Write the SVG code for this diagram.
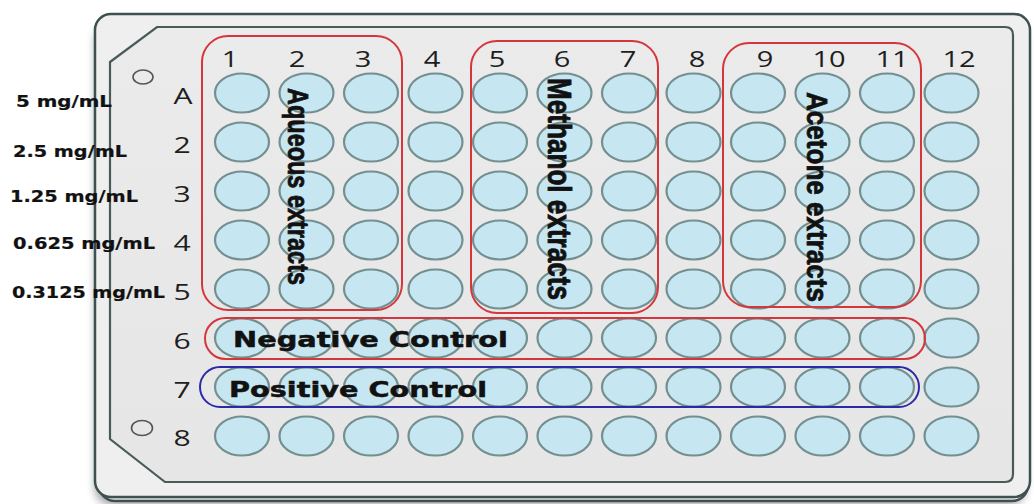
<svg xmlns="http://www.w3.org/2000/svg" width="1034" height="504" viewBox="0 0 1034 504">
  <defs>
    <filter id="shadow" x="-5%" y="-5%" width="110%" height="115%">
      <feGaussianBlur in="SourceAlpha" stdDeviation="4"/>
      <feOffset dx="-3" dy="3" result="b"/>
      <feComponentTransfer><feFuncA type="linear" slope="0.35"/></feComponentTransfer>
      <feMerge><feMergeNode/><feMergeNode in="SourceGraphic"/></feMerge>
    </filter>
    <linearGradient id="innerFill" x1="0" y1="0" x2="0" y2="1">
      <stop offset="0" stop-color="#ebebeb"/>
      <stop offset="1" stop-color="#e6e6e6"/>
    </linearGradient>
  </defs>
  <style>
    .well { fill: #c6e6f2; stroke: #748f90; stroke-width: 2.2; }
    .num { font-family: "Open Sans", "Liberation Sans", sans-serif; font-size: 21.5px; fill: #1e1e1e; text-anchor: middle; }
    .conc { font-family: "DejaVu Sans", sans-serif; font-weight: bold; font-size: 15px; fill: #111; stroke: #111; stroke-width: 0.2; }
    .ctrl { font-family: "DejaVu Sans", sans-serif; font-weight: bold; font-size: 22px; fill: #111; stroke: #111; stroke-width: 0.5; }
    .vert { font-family: "Liberation Sans", Arial, sans-serif; font-weight: bold; font-size: 26px; fill: #111; stroke: #111; stroke-width: 0.7; }
    .grpRed { fill: none; stroke: #d4363b; stroke-width: 2; }
    .grpBlue { fill: none; stroke: #2a2aa8; stroke-width: 2; }
    .hole { fill: none; stroke: #555; stroke-width: 1.6; }
  </style>

  <rect width="1034" height="504" fill="#ffffff"/>

  <!-- plate -->
  <g id="plate">
    <rect x="99" y="22" width="929" height="479" rx="16" fill="#e2e2e2" stroke="#3f5050" stroke-width="2.5" filter="url(#shadow)"/>
    <rect x="95" y="14" width="935" height="483" rx="16" fill="#efefef" stroke="#3f5050" stroke-width="2.5"/>
    <path d="M110,62 L157,27 L1005,27 Q1013,27 1013,35 L1013,474 Q1013,482 1005,482 L165,482 L110,439 Z" fill="url(#innerFill)" stroke="#4a5a5a" stroke-width="2.2"/>
    <ellipse class="hole" cx="143" cy="77" rx="10" ry="7"/>
    <ellipse class="hole" cx="142" cy="428" rx="10.5" ry="7.5"/>
  </g>

  <!-- column labels -->
  <g id="column-labels">
    <text class="num" transform="translate(230,67) scale(1.35,1)">1</text>
    <text class="num" transform="translate(297,67) scale(1.35,1)">2</text>
    <text class="num" transform="translate(363,67) scale(1.35,1)">3</text>
    <text class="num" transform="translate(432,67) scale(1.35,1)">4</text>
    <text class="num" transform="translate(497,67) scale(1.35,1)">5</text>
    <text class="num" transform="translate(562,67) scale(1.35,1)">6</text>
    <text class="num" transform="translate(628,67) scale(1.35,1)">7</text>
    <text class="num" transform="translate(697,67) scale(1.35,1)">8</text>
    <text class="num" transform="translate(765,67) scale(1.35,1)">9</text>
    <text class="num" transform="translate(829,67) scale(1.35,1)">10</text>
    <text class="num" transform="translate(892,67) scale(1.35,1)">11</text>
    <text class="num" transform="translate(959,67) scale(1.35,1)">12</text>
  </g>

  <!-- row labels -->
  <g id="row-labels">
    <text class="num" transform="translate(183,104) scale(1.4,1)">A</text>
    <text class="num" transform="translate(182,153) scale(1.4,1)">2</text>
    <text class="num" transform="translate(182,202) scale(1.4,1)">3</text>
    <text class="num" transform="translate(182,251) scale(1.4,1)">4</text>
    <text class="num" transform="translate(182,300) scale(1.4,1)">5</text>
    <text class="num" transform="translate(182,349) scale(1.4,1)">6</text>
    <text class="num" transform="translate(182,398) scale(1.4,1)">7</text>
    <text class="num" transform="translate(182,446) scale(1.4,1)">8</text>
  </g>

  <!-- wells -->
  <g id="wells">
    <g id="row-A">
      <ellipse class="well" cx="242" cy="93" rx="27" ry="19.5"/><ellipse class="well" cx="306.5" cy="93" rx="27" ry="19.5"/><ellipse class="well" cx="371" cy="93" rx="27" ry="19.5"/><ellipse class="well" cx="435.5" cy="93" rx="27" ry="19.5"/><ellipse class="well" cx="500" cy="93" rx="27" ry="19.5"/><ellipse class="well" cx="564.5" cy="93" rx="27" ry="19.5"/><ellipse class="well" cx="629" cy="93" rx="27" ry="19.5"/><ellipse class="well" cx="693.5" cy="93" rx="27" ry="19.5"/><ellipse class="well" cx="758" cy="93" rx="27" ry="19.5"/><ellipse class="well" cx="822.5" cy="93" rx="27" ry="19.5"/><ellipse class="well" cx="887" cy="93" rx="27" ry="19.5"/><ellipse class="well" cx="951.5" cy="93" rx="27" ry="19.5"/>
    </g>
    <g id="row-2">
      <ellipse class="well" cx="242" cy="142" rx="27" ry="19.5"/><ellipse class="well" cx="306.5" cy="142" rx="27" ry="19.5"/><ellipse class="well" cx="371" cy="142" rx="27" ry="19.5"/><ellipse class="well" cx="435.5" cy="142" rx="27" ry="19.5"/><ellipse class="well" cx="500" cy="142" rx="27" ry="19.5"/><ellipse class="well" cx="564.5" cy="142" rx="27" ry="19.5"/><ellipse class="well" cx="629" cy="142" rx="27" ry="19.5"/><ellipse class="well" cx="693.5" cy="142" rx="27" ry="19.5"/><ellipse class="well" cx="758" cy="142" rx="27" ry="19.5"/><ellipse class="well" cx="822.5" cy="142" rx="27" ry="19.5"/><ellipse class="well" cx="887" cy="142" rx="27" ry="19.5"/><ellipse class="well" cx="951.5" cy="142" rx="27" ry="19.5"/>
    </g>
    <g id="row-3">
      <ellipse class="well" cx="242" cy="191" rx="27" ry="19.5"/><ellipse class="well" cx="306.5" cy="191" rx="27" ry="19.5"/><ellipse class="well" cx="371" cy="191" rx="27" ry="19.5"/><ellipse class="well" cx="435.5" cy="191" rx="27" ry="19.5"/><ellipse class="well" cx="500" cy="191" rx="27" ry="19.5"/><ellipse class="well" cx="564.5" cy="191" rx="27" ry="19.5"/><ellipse class="well" cx="629" cy="191" rx="27" ry="19.5"/><ellipse class="well" cx="693.5" cy="191" rx="27" ry="19.5"/><ellipse class="well" cx="758" cy="191" rx="27" ry="19.5"/><ellipse class="well" cx="822.5" cy="191" rx="27" ry="19.5"/><ellipse class="well" cx="887" cy="191" rx="27" ry="19.5"/><ellipse class="well" cx="951.5" cy="191" rx="27" ry="19.5"/>
    </g>
    <g id="row-4">
      <ellipse class="well" cx="242" cy="240" rx="27" ry="19.5"/><ellipse class="well" cx="306.5" cy="240" rx="27" ry="19.5"/><ellipse class="well" cx="371" cy="240" rx="27" ry="19.5"/><ellipse class="well" cx="435.5" cy="240" rx="27" ry="19.5"/><ellipse class="well" cx="500" cy="240" rx="27" ry="19.5"/><ellipse class="well" cx="564.5" cy="240" rx="27" ry="19.5"/><ellipse class="well" cx="629" cy="240" rx="27" ry="19.5"/><ellipse class="well" cx="693.5" cy="240" rx="27" ry="19.5"/><ellipse class="well" cx="758" cy="240" rx="27" ry="19.5"/><ellipse class="well" cx="822.5" cy="240" rx="27" ry="19.5"/><ellipse class="well" cx="887" cy="240" rx="27" ry="19.5"/><ellipse class="well" cx="951.5" cy="240" rx="27" ry="19.5"/>
    </g>
    <g id="row-5">
      <ellipse class="well" cx="242" cy="289" rx="27" ry="19.5"/><ellipse class="well" cx="306.5" cy="289" rx="27" ry="19.5"/><ellipse class="well" cx="371" cy="289" rx="27" ry="19.5"/><ellipse class="well" cx="435.5" cy="289" rx="27" ry="19.5"/><ellipse class="well" cx="500" cy="289" rx="27" ry="19.5"/><ellipse class="well" cx="564.5" cy="289" rx="27" ry="19.5"/><ellipse class="well" cx="629" cy="289" rx="27" ry="19.5"/><ellipse class="well" cx="693.5" cy="289" rx="27" ry="19.5"/><ellipse class="well" cx="758" cy="289" rx="27" ry="19.5"/><ellipse class="well" cx="822.5" cy="289" rx="27" ry="19.5"/><ellipse class="well" cx="887" cy="289" rx="27" ry="19.5"/><ellipse class="well" cx="951.5" cy="289" rx="27" ry="19.5"/>
    </g>
    <g id="row-6">
      <ellipse class="well" cx="242" cy="338" rx="27" ry="19.5"/><ellipse class="well" cx="306.5" cy="338" rx="27" ry="19.5"/><ellipse class="well" cx="371" cy="338" rx="27" ry="19.5"/><ellipse class="well" cx="435.5" cy="338" rx="27" ry="19.5"/><ellipse class="well" cx="500" cy="338" rx="27" ry="19.5"/><ellipse class="well" cx="564.5" cy="338" rx="27" ry="19.5"/><ellipse class="well" cx="629" cy="338" rx="27" ry="19.5"/><ellipse class="well" cx="693.5" cy="338" rx="27" ry="19.5"/><ellipse class="well" cx="758" cy="338" rx="27" ry="19.5"/><ellipse class="well" cx="822.5" cy="338" rx="27" ry="19.5"/><ellipse class="well" cx="887" cy="338" rx="27" ry="19.5"/><ellipse class="well" cx="951.5" cy="338" rx="27" ry="19.5"/>
    </g>
    <g id="row-7">
      <ellipse class="well" cx="242" cy="387" rx="27" ry="19.5"/><ellipse class="well" cx="306.5" cy="387" rx="27" ry="19.5"/><ellipse class="well" cx="371" cy="387" rx="27" ry="19.5"/><ellipse class="well" cx="435.5" cy="387" rx="27" ry="19.5"/><ellipse class="well" cx="500" cy="387" rx="27" ry="19.5"/><ellipse class="well" cx="564.5" cy="387" rx="27" ry="19.5"/><ellipse class="well" cx="629" cy="387" rx="27" ry="19.5"/><ellipse class="well" cx="693.5" cy="387" rx="27" ry="19.5"/><ellipse class="well" cx="758" cy="387" rx="27" ry="19.5"/><ellipse class="well" cx="822.5" cy="387" rx="27" ry="19.5"/><ellipse class="well" cx="887" cy="387" rx="27" ry="19.5"/><ellipse class="well" cx="951.5" cy="387" rx="27" ry="19.5"/>
    </g>
    <g id="row-8">
      <ellipse class="well" cx="242" cy="436" rx="27" ry="19.5"/><ellipse class="well" cx="306.5" cy="436" rx="27" ry="19.5"/><ellipse class="well" cx="371" cy="436" rx="27" ry="19.5"/><ellipse class="well" cx="435.5" cy="436" rx="27" ry="19.5"/><ellipse class="well" cx="500" cy="436" rx="27" ry="19.5"/><ellipse class="well" cx="564.5" cy="436" rx="27" ry="19.5"/><ellipse class="well" cx="629" cy="436" rx="27" ry="19.5"/><ellipse class="well" cx="693.5" cy="436" rx="27" ry="19.5"/><ellipse class="well" cx="758" cy="436" rx="27" ry="19.5"/><ellipse class="well" cx="822.5" cy="436" rx="27" ry="19.5"/><ellipse class="well" cx="887" cy="436" rx="27" ry="19.5"/><ellipse class="well" cx="951.5" cy="436" rx="27" ry="19.5"/>
    </g>
  </g>

  <!-- concentration labels -->
  <g id="concentrations">
    <text class="conc" x="16" y="107" textLength="96" lengthAdjust="spacingAndGlyphs">5 mg/mL</text>
    <text class="conc" x="13" y="157" textLength="114" lengthAdjust="spacingAndGlyphs">2.5 mg/mL</text>
    <text class="conc" x="10" y="202" textLength="128" lengthAdjust="spacingAndGlyphs">1.25 mg/mL</text>
    <text class="conc" x="13" y="249" textLength="142" lengthAdjust="spacingAndGlyphs">0.625 mg/mL</text>
    <text class="conc" x="12" y="298" textLength="153" lengthAdjust="spacingAndGlyphs">0.3125 mg/mL</text>
  </g>

  <!-- groups -->
  <g id="aqueous-extracts">
    <rect class="grpRed" x="202" y="36" width="200" height="274" rx="26"/>
    <text class="vert" font-size="24" transform="translate(288,88) scale(1.1,1) rotate(90)" textLength="197" lengthAdjust="spacingAndGlyphs">Aqueous extracts</text>
  </g>
  <g id="methanol-extracts">
    <rect class="grpRed" x="471" y="41" width="187" height="272" rx="26"/>
    <text class="vert" transform="translate(548,78) scale(1.25,1) rotate(90)" textLength="222" lengthAdjust="spacingAndGlyphs">Methanol extracts</text>
  </g>
  <g id="acetone-extracts">
    <rect class="grpRed" x="723" y="43" width="198" height="264" rx="26"/>
    <text class="vert" transform="translate(807,92) scale(1.15,1) rotate(90)" textLength="210" lengthAdjust="spacingAndGlyphs">Acetone extracts</text>
  </g>
  <g id="negative-control">
    <rect class="grpRed" x="205" y="318" width="720" height="41" rx="20.5"/>
    <text class="ctrl" x="233" y="347" textLength="275" lengthAdjust="spacingAndGlyphs">Negative Control</text>
  </g>
  <g id="positive-control">
    <rect class="grpBlue" x="200" y="367" width="719" height="40" rx="20"/>
    <text class="ctrl" x="229" y="397" textLength="258" lengthAdjust="spacingAndGlyphs">Positive Control</text>
  </g>

  <g id="connectors"/>
</svg>
